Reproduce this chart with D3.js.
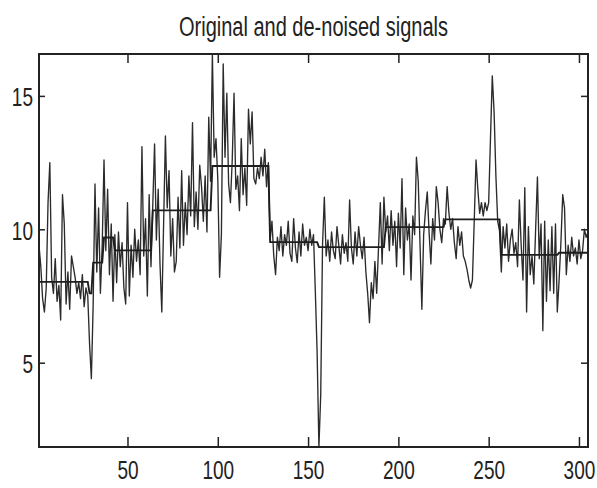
<!DOCTYPE html>
<html>
<head>
<meta charset="utf-8">
<script src="https://cdn.jsdelivr.net/npm/d3@7"></script>
<style>
  html, body { margin: 0; padding: 0; background: #fff; }
  svg { display: block; }
  text { font-family: "Liberation Sans", Arial, sans-serif; fill: #222; }
</style>
</head>
<body>
<svg id="chart" width="597" height="488"></svg>
<script>
// ---- data ----
const titleText = "Original and de-noised signals";
const xTicks = [50, 100, 150, 200, 250, 300];
const yTicks = [5, 10, 15];

// original (noisy) signal, samples 1..305
const noisy = [
  9.4, 8.6, 7.4, 6.9, 7.8, 11.0, 12.5, 8.2, 7.6, 8.9, 7.3, 7.9, 6.6, 11.3, 10.2, 7.2, 8.4, 7.0, 9.0, 8.6, 8.2, 7.6, 8.0, 7.4, 8.3, 7.1, 7.8, 7.5,
  5.7, 4.4, 7.2, 11.7, 8.4, 10.8, 7.6, 9.4,
  12.6, 9.2, 11.5, 8.3, 10.2, 7.3,
  9.8, 8.0, 9.9, 8.6, 9.5, 7.8, 7.2, 11.0, 7.5, 9.4, 8.2, 10.0, 8.8, 9.6, 8.3, 13.1, 9.0, 10.4, 7.5, 11.3, 8.6,
  10.9, 13.2, 9.6, 11.5, 8.7, 6.9, 10.2, 13.5, 10.8, 12.2, 9.0, 10.4, 8.4, 8.8, 11.2, 9.3, 12.2, 9.4, 11.0, 9.8, 12.0, 10.5, 14.0, 10.1, 11.4, 10.0, 12.4, 11.6, 10.3, 12.0, 9.9, 14.2, 11.8,
  16.57, 12.7, 13.4, 11.9, 8.2, 9.8, 16.2, 12.7, 15.1, 11.7, 11.0, 12.6, 15.1, 11.5, 12.0, 10.7, 13.4, 11.3, 12.3, 10.9, 14.5, 13.2, 14.4, 11.9, 11.7, 12.3, 11.9, 12.7, 12.0, 13.0, 11.6, 12.5,
  9.6, 10.3, 9.0, 8.3, 9.7, 9.2, 10.1, 9.0, 9.8, 9.4, 10.3, 9.1, 8.8, 10.4, 9.3, 8.75, 9.9, 9.0, 10.2, 9.4, 9.7, 9.2, 10.0, 9.4, 9.8, 7.7,
  5.4, 1.84, 3.8, 9.4,
  11.2, 9.0, 9.6, 8.8, 9.9, 9.2, 8.9, 10.1, 9.4, 8.7, 9.8, 9.1, 9.5, 8.8, 11.1, 9.3, 8.7, 9.9, 9.0, 10.1, 9.4, 8.9, 9.7, 8.4, 7.6, 6.5, 8.0, 7.4, 8.8, 7.6, 9.3, 11.0, 8.7, 11.2,
  9.9, 10.5, 9.2, 10.7, 9.4, 10.3, 8.6, 10.6, 9.3, 11.9, 8.3, 10.8, 9.6, 10.2, 8.1, 10.5, 9.8, 12.7, 11.8, 9.4, 7.0, 9.8, 10.7, 11.4, 9.9, 8.7, 10.4, 9.6, 11.6, 11.0, 10.0, 9.5, 10.4,
  10.2, 11.6, 10.6, 10.0, 10.4, 9.5, 8.9, 10.1, 9.4, 9.9, 9.0, 8.8, 8.5, 8.1, 7.8, 8.1, 10.3, 12.6, 11.5, 10.6, 11.0, 10.5, 11.0, 10.7, 11.0, 13.4, 15.75, 14.4, 12.0, 10.3, 9.95,
  8.4, 10.1, 9.3, 10.2, 8.8, 9.6, 10.0, 9.1, 9.5, 8.6, 11.1, 9.4, 8.1, 11.56, 6.9, 10.1, 8.3, 9.0, 7.95, 10.0, 11.96, 8.9, 10.2, 6.2, 10.3, 7.3, 9.6, 7.7, 10.1, 7.6, 10.2, 6.9,
  8.1, 9.5, 11.3, 10.8, 8.3, 9.4, 8.8, 9.7, 9.0, 9.3, 8.7, 9.6, 8.9, 9.2, 10.0, 9.7, 9.9
];

// de-noised signal: piecewise constant, first sample index of each piece and its level
const denoiseStarts = [1, 29, 31, 37, 43, 64, 97, 129, 156, 193, 226, 257, 289];
const denoiseLevels = [8.03, 7.6, 8.75, 9.69, 9.21, 10.71, 12.37, 9.52, 9.33, 10.08, 10.37, 9.04, 9.12];

// ---- build series ----
const n = noisy.length;
const noisyPts = noisy.map((v, i) => [i + 1, v]);
const denoisePts = noisy.map((v, i) => {
  const idx = i + 1;
  let k = 0;
  for (let j = 0; j < denoiseStarts.length; j++) if (idx >= denoiseStarts[j]) k = j;
  return [idx, denoiseLevels[k]];
});

// ---- layout ----
const L = 39, R = 588, T = 54, B = 447;
const svg = d3.select("#chart");

const x = d3.scaleLinear().domain([1, n]).range([L, R]);
const y = d3.scaleLinear().domain(d3.extent(noisy)).range([B, T]);

const line = d3.line().x(d => x(d[0])).y(d => y(d[1]));

svg.append("defs").append("clipPath").attr("id", "plotclip")
  .append("rect").attr("x", L).attr("y", T).attr("width", R - L).attr("height", B - T);

const plot = svg.append("g").attr("clip-path", "url(#plotclip)");

plot.append("path").datum(noisyPts)
  .attr("d", line).attr("fill", "none")
  .attr("stroke", "#2b2b2b").attr("stroke-width", 1.35).attr("stroke-linejoin", "round");

plot.append("path").datum(denoisePts)
  .attr("d", line).attr("fill", "none")
  .attr("stroke", "#1e1e1e").attr("stroke-width", 1.9);

// ---- axes (MATLAB style: ticks inside, box) ----
const styleAxis = g => {
  g.select(".domain").remove();
  g.selectAll(".tick line").attr("stroke", "#222").attr("stroke-width", 1.5);
};

const gxB = svg.append("g").attr("transform", `translate(0,${B})`)
  .call(d3.axisBottom(x).tickValues(xTicks).tickSizeInner(-10).tickSizeOuter(0).tickFormat(d3.format("d")));
styleAxis(gxB);
gxB.selectAll(".tick text")
  .attr("y", 0).attr("dy", 0)
  .attr("transform", "translate(0,32) scale(1,1.4)")
  .attr("font-size", 19).attr("fill", "#222")
  .attr("font-family", "Liberation Sans, Arial, sans-serif");

const gxT = svg.append("g").attr("transform", `translate(0,${T})`)
  .call(d3.axisTop(x).tickValues(xTicks).tickSizeInner(-9).tickSizeOuter(0).tickFormat(""));
styleAxis(gxT);

const gyL = svg.append("g").attr("transform", `translate(${L},0)`)
  .call(d3.axisLeft(y).tickValues(yTicks).tickSizeInner(-6).tickSizeOuter(0).tickFormat(d3.format("d")));
styleAxis(gyL);
gyL.selectAll(".tick text")
  .attr("x", 0).attr("dy", 0)
  .attr("text-anchor", "end")
  .attr("transform", "translate(-6,10) scale(1,1.4)")
  .attr("font-size", 19).attr("fill", "#222")
  .attr("font-family", "Liberation Sans, Arial, sans-serif");

const gyR = svg.append("g").attr("transform", `translate(${R},0)`)
  .call(d3.axisRight(y).tickValues(yTicks).tickSizeInner(-7).tickSizeOuter(0).tickFormat(""));
styleAxis(gyR);

svg.append("rect")
  .attr("x", L).attr("y", T).attr("width", R - L).attr("height", B - T)
  .attr("fill", "none").attr("stroke", "#222").attr("stroke-width", 2);

// ---- title ----
svg.append("text")
  .attr("text-anchor", "middle")
  .attr("transform", `translate(${(L + R) / 2},36) scale(1,1.4)`)
  .attr("font-size", 20)
  .text(titleText);
</script>
</body>
</html>
